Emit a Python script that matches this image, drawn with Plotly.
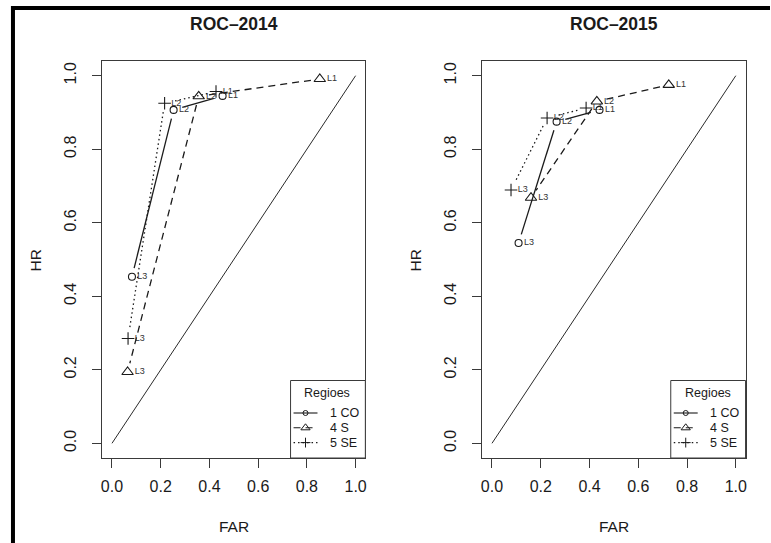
import math
import plotly.graph_objects as go

W, H = 771, 543

# ---- data -------------------------------------------------------------
point_labels = ["L1", "L2", "L3"]
region_names = ["1 CO", "4 S", "5 SE"]
legend_title = "Regioes"
panel_titles = ["ROC–2014", "ROC–2015"]

far_2014_co = [0.454, 0.253, 0.082]
hr_2014_co = [0.945, 0.907, 0.453]
far_2014_s = [0.853, 0.356, 0.064]
hr_2014_s = [0.991, 0.944, 0.194]
far_2014_se = [0.427, 0.216, 0.066]
hr_2014_se = [0.957, 0.925, 0.285]

far_2015_co = [0.441, 0.265, 0.109]
hr_2015_co = [0.907, 0.875, 0.545]
far_2015_s = [0.725, 0.430, 0.160]
hr_2015_s = [0.975, 0.930, 0.668]
far_2015_se = [0.386, 0.226, 0.078]
hr_2015_se = [0.912, 0.885, 0.689]

tick_vals = [0.0, 0.2, 0.4, 0.6, 0.8, 1.0]
tick_text = ["0.0", "0.2", "0.4", "0.6", "0.8", "1.0"]
diag = [0.0, 1.0]

# ---- layout geometry (pixels) ----------------------------------------
AX_RANGE = [-0.04, 1.04]
panels_px = [(101.5, 365.3), (482.5, 746.5)]
y_px = (61.0, 458.0)

FONT = "Liberation Sans, Arial, Helvetica, sans-serif"
INK = "#1a1a1a"
FRAME = "#3a3a3a"

styles = [
    dict(symbol="circle-open", size=7, dash="solid"),
    dict(symbol="triangle-up-open", size=10, dash="7px,5px"),
    dict(symbol="cross-thin-open", size=9, dash="1.5px,3px"),
]

panel_data = [
    [(far_2014_co, hr_2014_co), (far_2014_s, hr_2014_s), (far_2014_se, hr_2014_se)],
    [(far_2015_co, hr_2015_co), (far_2015_s, hr_2015_s), (far_2015_se, hr_2015_se)],
]


def gapped_path(xs, ys, xpx, ypx, gap=9.0):
    """Segments between consecutive points, trimmed near each symbol (R type='b')."""
    span = AX_RANGE[1] - AX_RANGE[0]
    sx = (xpx[1] - xpx[0]) / span
    sy = (ypx[1] - ypx[0]) / span
    out_x, out_y = [], []
    for i in range(len(xs) - 1):
        ddx, ddy = xs[i + 1] - xs[i], ys[i + 1] - ys[i]
        length = math.hypot(ddx * sx, ddy * sy)
        if length <= 2 * gap:
            continue
        f = gap / length
        out_x += [xs[i] + ddx * f, xs[i + 1] - ddx * f, None]
        out_y += [ys[i] + ddy * f, ys[i + 1] - ddy * f, None]
    return out_x, out_y


fig = go.Figure()
shapes = []
annotations = []

for p, (xpx, series) in enumerate(zip(panels_px, panel_data)):
    xa = "x" if p == 0 else "x2"
    ya = "y" if p == 0 else "y2"

    # reference diagonal
    fig.add_trace(go.Scatter(x=diag, y=diag, mode="lines", xaxis=xa, yaxis=ya,
                             line=dict(color="#2a2a2a", width=1), showlegend=False,
                             hoverinfo="skip"))

    for (far, hr), st in zip(series, styles):
        gx, gy = gapped_path(far, hr, xpx, y_px)
        fig.add_trace(go.Scatter(x=gx, y=gy, mode="lines", xaxis=xa, yaxis=ya,
                                 line=dict(color=INK, width=1.3, dash=st["dash"]),
                                 showlegend=False, hoverinfo="skip"))
        fig.add_trace(go.Scatter(x=far, y=hr, mode="markers+text", xaxis=xa, yaxis=ya,
                                 text=point_labels, textposition="middle right",
                                 textfont=dict(family=FONT, size=9, color="#333333"),
                                 marker=dict(symbol=st["symbol"], size=st["size"],
                                             color=INK, line=dict(color=INK, width=1.1)),
                                 showlegend=False))

    # boxed key in the lower-right corner (pixel overlay axes x3/y3)
    R, B = xpx[1], y_px[1]
    shapes.append(dict(type="rect", xref="x3", yref="y3", x0=R - 75, x1=R, y0=B - 77.5, y1=B,
                       line=dict(color=FRAME, width=1), fillcolor="white", layer="below"))
    annotations.append(dict(text=legend_title, xref="x3", yref="y3", x=R - 38, y=B - 65,
                            showarrow=False, font=dict(family=FONT, size=12.5, color=INK)))
    for k, (name, st) in enumerate(zip(region_names, styles)):
        yk = B - 45 + 14.8 * k
        fig.add_trace(go.Scatter(x=[R - 72, R - 48], y=[yk, yk], mode="lines",
                                 xaxis="x3", yaxis="y3", showlegend=False, hoverinfo="skip",
                                 line=dict(color=INK, width=1.1, dash=st["dash"])))
        fig.add_trace(go.Scatter(x=[R - 60], y=[yk], mode="markers",
                                 xaxis="x3", yaxis="y3", showlegend=False, hoverinfo="skip",
                                 marker=dict(symbol=st["symbol"], size=st["size"] - 2,
                                             color=INK, line=dict(color=INK, width=1))))
        annotations.append(dict(text=name, xref="x3", yref="y3", x=R - 37.5, y=yk,
                                xanchor="left", showarrow=False,
                                font=dict(family=FONT, size=12.5, color=INK)))

axis_common = dict(range=AX_RANGE, tickvals=tick_vals, ticktext=tick_text,
                   ticks="outside", ticklen=9, tickwidth=1, tickcolor=FRAME,
                   showline=True, linecolor=FRAME, linewidth=1, mirror=True,
                   showgrid=False, zeroline=False,
                   tickfont=dict(family=FONT, size=16, color=INK))

dom = lambda a, b: [a / W, b / W]
ydom = [1 - y_px[1] / H, 1 - y_px[0] / H]

for (a, b), title in zip(panels_px, panel_titles):
    cx = (a + b) / 2
    annotations.append(dict(text=f"<b>{title}</b>", x=cx, y=24, xref="x3", yref="y3",
                            showarrow=False, font=dict(family=FONT, size=17.5, color=INK)))
    annotations.append(dict(text="FAR", x=cx, y=526, xref="x3", yref="y3",
                            showarrow=False, font=dict(family=FONT, size=15.5, color=INK)))
    annotations.append(dict(text="HR", x=a - 67, y=260, xref="x3", yref="y3",
                            showarrow=False, textangle=-90,
                            font=dict(family=FONT, size=15.5, color=INK)))

# thick frame along the left and top edges
shapes += [
    dict(type="line", xref="x3", yref="y3", x0=12, x1=12, y0=6, y1=H,
         line=dict(color="black", width=4)),
    dict(type="line", xref="x3", yref="y3", x0=10, x1=W, y0=8, y1=8,
         line=dict(color="black", width=4)),
]

fig.update_layout(
    width=W, height=H, margin=dict(l=0, r=0, t=0, b=0),
    paper_bgcolor="white", plot_bgcolor="rgba(0,0,0,0)",
    showlegend=False,
    xaxis=dict(domain=dom(*panels_px[0]), anchor="y", ticklabelstandoff=5, **axis_common),
    yaxis=dict(domain=ydom, anchor="x", tickangle=-90, ticklabelstandoff=10, **axis_common),
    xaxis2=dict(domain=dom(*panels_px[1]), anchor="y2", ticklabelstandoff=5, **axis_common),
    yaxis2=dict(domain=ydom, anchor="x2", tickangle=-90, ticklabelstandoff=10, **axis_common),
    xaxis3=dict(domain=[0, 1], range=[0, W], anchor="y3", visible=False, fixedrange=True),
    yaxis3=dict(domain=[0, 1], range=[H, 0], anchor="x3", visible=False, fixedrange=True),
    annotations=annotations,
    shapes=shapes,
)

fig.write_html("out.html")
